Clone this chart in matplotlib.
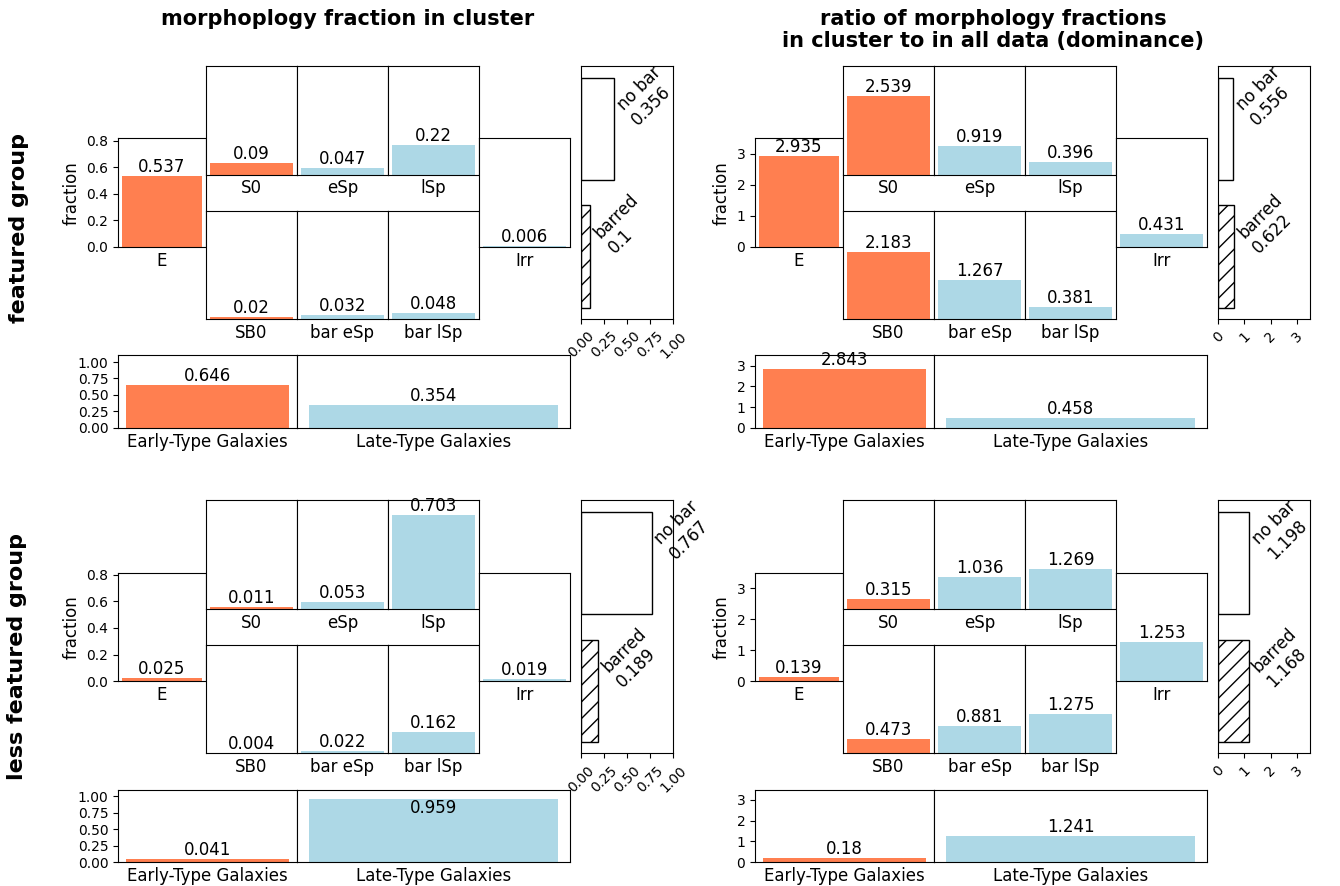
import matplotlib
matplotlib.use("Agg")
import matplotlib.pyplot as plt

# ---------------- data ----------------
morph_labels = ['E', 'S0', 'eSp', 'lSp', 'SB0', 'bar eSp', 'bar lSp', 'Irr']
morph_early = [True, True, False, False, True, False, False, False]

frac_featured = [0.537, 0.09, 0.047, 0.22, 0.02, 0.032, 0.048, 0.006]
frac_less = [0.025, 0.011, 0.053, 0.703, 0.004, 0.022, 0.162, 0.019]
ratio_featured = [2.935, 2.539, 0.919, 0.396, 2.183, 1.267, 0.381, 0.431]
ratio_less = [0.139, 0.315, 1.036, 1.269, 0.473, 0.881, 1.275, 1.253]

bar_labels = ['no bar', 'barred']
bar_frac_featured = [0.356, 0.1]
bar_frac_less = [0.767, 0.189]
bar_ratio_featured = [0.556, 0.622]
bar_ratio_less = [1.198, 1.168]

type_labels = ['Early-Type Galaxies', 'Late-Type Galaxies']
type_frac_featured = [0.646, 0.354]
type_frac_less = [0.041, 0.959]
type_ratio_featured = [2.843, 0.458]
type_ratio_less = [0.18, 1.241]

row_titles = ['featured group', 'less featured group']
col_titles = ['morphoplogy fraction in cluster',
              'ratio of morphology fractions\nin cluster to in all data (dominance)']

EARLY_COLOR = '#FF7F50'
LATE_COLOR = '#ADD8E6'

# ---------------- layout ----------------
W, H = 1340, 886
fig = plt.figure(figsize=(W / 100, H / 100), dpi=100)


def px_axes(x0, y0, x1, y1):
    return fig.add_axes([x0 / W, 1 - y1 / H, (x1 - x0) / W, (y1 - y0) / H])


U = (862 - 66) / 22.0
COL_EDGES = [118, 206, 297, 388, 479, 570]
BOX_X = (581, 673)
X_OFF = 637


def single_bar(ax, label, v, color, ylim, yticks=None, ylabel=None):
    ax.bar([label], [v], color=color, width=0.8)
    ax.set_ylim(0, ylim)
    ax.text(0, v, str(v), ha='center', va='bottom', fontsize=12)
    ax.tick_params(axis='x', length=0, labelsize=12)
    if yticks is None:
        ax.set_yticks([])
    else:
        ax.set_yticks(yticks)
        ax.tick_params(axis='y', labelsize=10)
    if ylabel:
        ax.set_ylabel(ylabel, fontsize=12)


def panel(r, c, morph_vals, bar_vals, type_vals, ylim_main, yticks_main,
          ylim_type, yticks_type, box_xlim, box_xticks, type_cap):
    xo = X_OFF * c
    yt = 66 + 12 * U * r
    xs = [e + xo for e in COL_EDGES]
    colors = [EARLY_COLOR if e else LATE_COLOR for e in morph_early]

    # E
    ax = px_axes(xs[0], yt + 2 * U, xs[1], yt + 5 * U)
    single_bar(ax, morph_labels[0], morph_vals[0], colors[0], ylim_main,
               yticks=yticks_main, ylabel='fraction')
    # top row S0, eSp, lSp
    for k in range(3):
        i = 1 + k
        ax = px_axes(xs[1 + k], yt, xs[2 + k], yt + 3 * U)
        single_bar(ax, morph_labels[i], morph_vals[i], colors[i], ylim_main)
    # bottom row SB0, bar eSp, bar lSp
    for k in range(3):
        i = 4 + k
        ax = px_axes(xs[1 + k], yt + 4 * U, xs[2 + k], yt + 7 * U)
        single_bar(ax, morph_labels[i], morph_vals[i], colors[i], ylim_main)
    # Irr
    ax = px_axes(xs[4], yt + 2 * U, xs[5], yt + 5 * U)
    single_bar(ax, morph_labels[7], morph_vals[7], colors[7], ylim_main)

    # bar / no bar box
    ax = px_axes(BOX_X[0] + xo, yt, BOX_X[1] + xo, yt + 7 * U)
    positions = [1, 0]
    hatches = ['', '//']
    for lab, v, p, h in zip(bar_labels, bar_vals, positions, hatches):
        ax.barh(p, v, height=0.8, color='white', edgecolor='black',
                hatch=h, linewidth=1.0)
        ax.text(v, p, f'{lab}\n{v}', rotation=45, ha='left', va='bottom',
                fontsize=12)
    ax.set_xlim(*box_xlim)
    ax.set_xticks(box_xticks)
    ax.tick_params(axis='x', labelrotation=45, labelsize=10)
    ax.set_yticks([])

    # early / late type
    tcolors = [EARLY_COLOR, LATE_COLOR]
    spans = [(xs[0], xs[2]), (xs[2], xs[5])]
    for k in range(2):
        ax = px_axes(spans[k][0], yt + 8 * U, spans[k][1], yt + 10 * U)
        v = type_vals[k]
        ax.bar([type_labels[k]], [v], color=tcolors[k], width=0.8)
        ax.set_ylim(0, ylim_type)
        ty = v if type_cap is None else min(v, type_cap)
        ax.text(0, ty, str(v), ha='center', va='bottom', fontsize=12)
        ax.tick_params(axis='x', length=0, labelsize=12)
        if k == 0:
            ax.set_yticks(yticks_type)
            ax.tick_params(axis='y', labelsize=10)
        else:
            ax.set_yticks([])


frac_ticks = [0.0, 0.2, 0.4, 0.6, 0.8]
ratio_ticks = [0, 1, 2, 3]
type_frac_ticks = [0.0, 0.25, 0.5, 0.75, 1.0]
box_frac_ticks = [0.0, 0.25, 0.5, 0.75, 1.0]

panel(0, 0, frac_featured, bar_frac_featured, type_frac_featured,
      0.817, frac_ticks, 1.1, type_frac_ticks, (0, 1), box_frac_ticks, 0.68)
panel(1, 0, frac_less, bar_frac_less, type_frac_less,
      0.817, frac_ticks, 1.1, type_frac_ticks, (0, 1), box_frac_ticks, 0.68)
panel(0, 1, ratio_featured, bar_ratio_featured, type_ratio_featured,
      3.5, ratio_ticks, 3.5, ratio_ticks, (0, 3.5), ratio_ticks, None)
panel(1, 1, ratio_less, bar_ratio_less, type_ratio_less,
      3.5, ratio_ticks, 3.5, ratio_ticks, (0, 3.5), ratio_ticks, None)

# titles
fig.text(348 / W, 1 - 9 / H, col_titles[0], ha='center', va='top',
         fontsize=15, fontweight='bold')
fig.text(993 / W, 1 - 9 / H, col_titles[1], ha='center', va='top',
         fontsize=15, fontweight='bold', linespacing=1.1)
fig.text(19 / W, 1 - 228 / H, row_titles[0], ha='center', va='center',
         rotation=90, fontsize=16, fontweight='bold')
fig.text(17 / W, 1 - 657 / H, row_titles[1], ha='center', va='center',
         rotation=90, fontsize=16, fontweight='bold')

fig.savefig('out.png', dpi=100)
